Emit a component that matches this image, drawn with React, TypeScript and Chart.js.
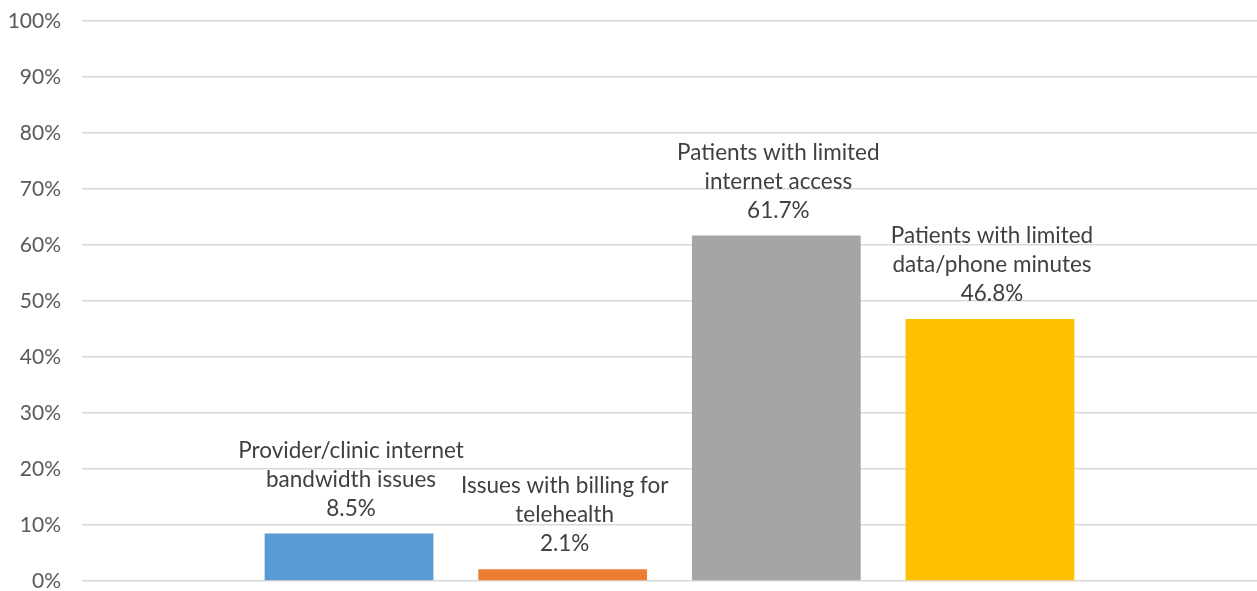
import React, { useEffect, useRef } from "react";
import { Chart, registerables } from "chart.js";

Chart.register(...registerables);

const categories = ["Telehealth barriers"];
const seriesNames = [
  ["Provider/clinic internet", "bandwidth issues"],
  ["Issues with billing for", "telehealth"],
  ["Patients with limited", "internet access"],
  ["Patients with limited", "data/phone minutes"],
];
const seriesValues = [8.5, 2.1, 61.7, 46.8];
const seriesColors = ["#5B9BD5", "#ED7D31", "#A5A5A5", "#FFC000"];
const yTicks = [0, 10, 20, 30, 40, 50, 60, 70, 80, 90, 100];

const FONT = "Lato, 'Noto Sans', sans-serif";

const labelPlugin = {
  id: "barLabels",
  afterDatasetsDraw(chart: any) {
    const ctx = chart.ctx;
    ctx.save();
    ctx.font = `22.5px ${FONT}`;
    ctx.fillStyle = "#404040";
    ctx.textAlign = "center";
    ctx.textBaseline = "middle";
    chart.data.datasets.forEach((ds: any, i: number) => {
      const meta = chart.getDatasetMeta(i);
      meta.data.forEach((bar: any, j: number) => {
        const lines = [...seriesNames[i], `${ds.data[j].toFixed(1)}%`];
        const n = lines.length;
        lines.forEach((line: string, k: number) => {
          const y = bar.y - 25 - (n - 1 - k) * 29;
          ctx.fillText(line, bar.x + 2, y);
        });
      });
    });
    ctx.restore();
  },
};

export default function App() {
  const ref = useRef<HTMLCanvasElement>(null);
  useEffect(() => {
    document.body.style.margin = "0";
    const chart = new Chart(ref.current!, {
      type: "bar",
      data: {
        labels: categories,
        datasets: seriesValues.map((v, i) => ({
          label: seriesNames[i].join(" "),
          data: [v],
          backgroundColor: seriesColors[i],
          categoryPercentage: 0.7273,
          barPercentage: 0.79,
        })),
      },
      options: {
        animation: false,
        responsive: false,
        maintainAspectRatio: false,
        layout: { padding: { left: 4, top: 21, bottom: 10, right: 0 } },
        plugins: {
          legend: { display: false },
          tooltip: { enabled: false },
        },
        scales: {
          x: { display: false },
          y: {
            min: 0,
            max: 100,
            afterBuildTicks: (scale: any) => {
              scale.ticks = yTicks.map((v) => ({ value: v }));
            },
            afterFit: (scale: any) => {
              scale.paddingTop = 0;
              scale.paddingBottom = 0;
              scale.width = 78;
            },
            ticks: {
              callback: (v: any) => `${v}%`,
              color: "#595959",
              font: { family: FONT, size: 21 },
              padding: 21,
            },
            grid: { color: "#D9D9D9", lineWidth: 1.5, drawTicks: false },
            border: { display: false },
          },
        },
      },
      plugins: [labelPlugin],
    });
    return () => chart.destroy();
  }, []);
  return (
    <div style={{ position: "absolute", left: 0, top: 0, width: 1257, height: 591 }}>
      <canvas ref={ref} width={1257} height={591} />
    </div>
  );
}
